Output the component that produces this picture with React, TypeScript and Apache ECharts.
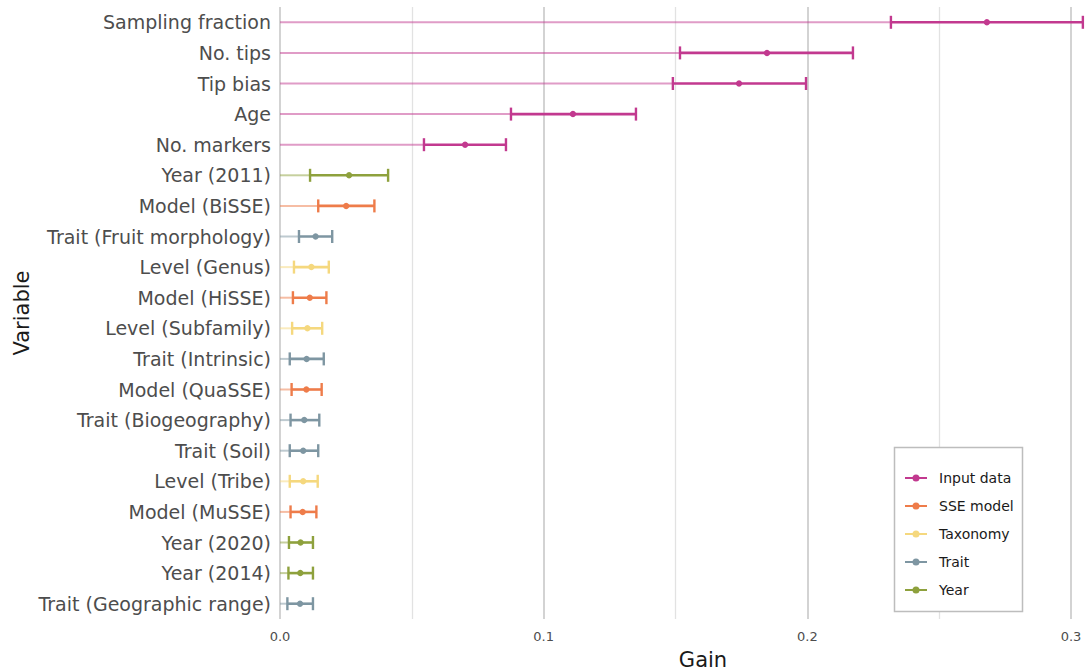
import React, { useEffect, useRef } from "react";
import * as echarts from "echarts";

const categories = [
  "Sampling fraction",
  "No. tips",
  "Tip bias",
  "Age",
  "No. markers",
  "Year (2011)",
  "Model (BiSSE)",
  "Trait (Fruit morphology)",
  "Level (Genus)",
  "Model (HiSSE)",
  "Level (Subfamily)",
  "Trait (Intrinsic)",
  "Model (QuaSSE)",
  "Trait (Biogeography)",
  "Trait (Soil)",
  "Level (Tribe)",
  "Model (MuSSE)",
  "Year (2020)",
  "Year (2014)",
  "Trait (Geographic range)",
];

const groups = [
  "Input data", "Input data", "Input data", "Input data", "Input data",
  "Year", "SSE model", "Trait", "Taxonomy", "SSE model",
  "Taxonomy", "Trait", "SSE model", "Trait", "Trait",
  "Taxonomy", "SSE model", "Year", "Year", "Trait",
];

const gainLow = [
  0.2317, 0.1517, 0.149, 0.0876, 0.0546,
  0.0114, 0.0145, 0.0072, 0.0053, 0.0049,
  0.0046, 0.0037, 0.0044, 0.004, 0.0037,
  0.0037, 0.004, 0.0034, 0.0032, 0.0028,
];

const gainMean = [
  0.2681, 0.1847, 0.1741, 0.1111, 0.0702,
  0.0262, 0.0251, 0.0135, 0.0119, 0.0113,
  0.0104, 0.0101, 0.01, 0.0092, 0.0088,
  0.0088, 0.0086, 0.0078, 0.0077, 0.0076,
];

const gainHigh = [
  0.3045, 0.2173, 0.1995, 0.135, 0.0857,
  0.041, 0.0358, 0.0198, 0.0185, 0.0176,
  0.016, 0.0166, 0.0158, 0.0149, 0.0145,
  0.0143, 0.0138, 0.0125, 0.0125, 0.0125,
];

const groupNames = ["Input data", "SSE model", "Taxonomy", "Trait", "Year"];
const groupColors = ["#c2398f", "#ee7c4a", "#f5d87e", "#7e96a2", "#8ea13d"];

const xTicks = [0, 0.1, 0.2, 0.3];

const legendIcon =
  "path://M0,2.5h22v2h-22z M14.5,3.5a3.5,3.5 0 1,1 -7,0a3.5,3.5 0 1,1 7,0z";

export default function App() {
  const ref = useRef<HTMLDivElement>(null);

  useEffect(() => {
    if (!ref.current) return;
    const chart = echarts.init(ref.current, null, { renderer: "svg" });

    const series = groupNames.map((g, gi) => {
      const color = groupColors[gi];
      const data: any[] = [];
      categories.forEach((c, i) => {
        if (groups[i] === g) {
          data.push({ value: [gainLow[i], gainMean[i], gainHigh[i], c] });
        }
      });
      return {
        name: g,
        type: "custom",
        clip: false,
        itemStyle: { color },
        encode: { x: [0, 1, 2], y: 3 },
        data,
        renderItem: (params: any, api: any) => {
          const cat = api.value(3);
          const p0 = api.coord([0, cat]);
          const pl = api.coord([api.value(0), cat]);
          const pm = api.coord([api.value(1), cat]);
          const ph = api.coord([api.value(2), cat]);
          const y = p0[1];
          return {
            type: "group",
            children: [
              {
                type: "line",
                shape: { x1: p0[0], y1: y, x2: pl[0], y2: y },
                style: { stroke: color, lineWidth: 2, opacity: 0.5 },
              },
              {
                type: "line",
                shape: { x1: pl[0], y1: y, x2: ph[0], y2: y },
                style: { stroke: color, lineWidth: 2.6 },
              },
              {
                type: "line",
                shape: { x1: pl[0], y1: y - 6.5, x2: pl[0], y2: y + 6.5 },
                style: { stroke: color, lineWidth: 2.4 },
              },
              {
                type: "line",
                shape: { x1: ph[0], y1: y - 6.5, x2: ph[0], y2: y + 6.5 },
                style: { stroke: color, lineWidth: 2.4 },
              },
              {
                type: "circle",
                shape: { cx: pm[0], cy: y, r: 3.2 },
                style: { fill: color },
              },
            ],
          };
        },
      };
    });

    chart.setOption({
      animation: false,
      backgroundColor: "#ffffff",
      textStyle: { fontFamily: "DejaVu Sans" },
      grid: { left: 280, right: 15, top: 7, bottom: 53, containLabel: false },
      xAxis: {
        type: "value",
        min: 0,
        max: 0.3,
        interval: 0.1,
        axisLine: { show: false },
        axisTick: { show: false },
        axisLabel: {
          color: "#4d4d4d",
          fontSize: 13,
          margin: 11,
          formatter: (v: number) => {
            const t = xTicks.find((k) => Math.abs(k - v) < 1e-9);
            return t === undefined ? "" : t.toFixed(1);
          },
        },
        splitLine: { show: true, lineStyle: { color: "#c4c4c4", width: 1.5 } },
        minorTick: { show: false, splitNumber: 2 },
        minorSplitLine: { show: true, lineStyle: { color: "#e2e2e2", width: 1.3 } },
      },
      yAxis: {
        type: "category",
        data: categories,
        inverse: true,
        axisLine: { show: false },
        axisTick: { show: false },
        splitLine: { show: false },
        axisLabel: { color: "#4d4d4d", fontSize: 19, margin: 9 },
      },
      legend: {
        orient: "vertical",
        left: 905,
        top: 471,
        padding: 0,
        itemGap: 14,
        itemWidth: 22,
        itemHeight: 7,
        icon: legendIcon,
        data: groupNames.map((n, i) => ({ name: n, itemStyle: { color: groupColors[i] } })),
        textStyle: { fontSize: 14, color: "#1a1a1a", lineHeight: 14, padding: [0, 0, 0, 7] },
        selectedMode: false,
      },
      graphic: [
        {
          type: "rect",
          z: 3,
          shape: { x: 894.5, y: 447.5, width: 128, height: 164 },
          style: { fill: "#ffffff", stroke: "#bdbdbd", lineWidth: 1.5 },
        },
        {
          type: "text",
          z: 3,
          x: 703,
          y: 660,
          style: {
            text: "Gain",
            fontSize: 21,
            fontFamily: "DejaVu Sans",
            fill: "#1a1a1a",
            align: "center",
            verticalAlign: "middle",
          },
        },
        {
          type: "text",
          z: 3,
          x: 22,
          y: 313,
          rotation: Math.PI / 2,
          style: {
            text: "Variable",
            fontSize: 21,
            fontFamily: "DejaVu Sans",
            fill: "#1a1a1a",
            align: "center",
            verticalAlign: "middle",
          },
        },
      ],
      series,
    });

    return () => chart.dispose();
  }, []);

  return (
    <div
      ref={ref}
      style={{ position: "fixed", left: 0, top: 0, width: 1086, height: 672 }}
    />
  );
}
